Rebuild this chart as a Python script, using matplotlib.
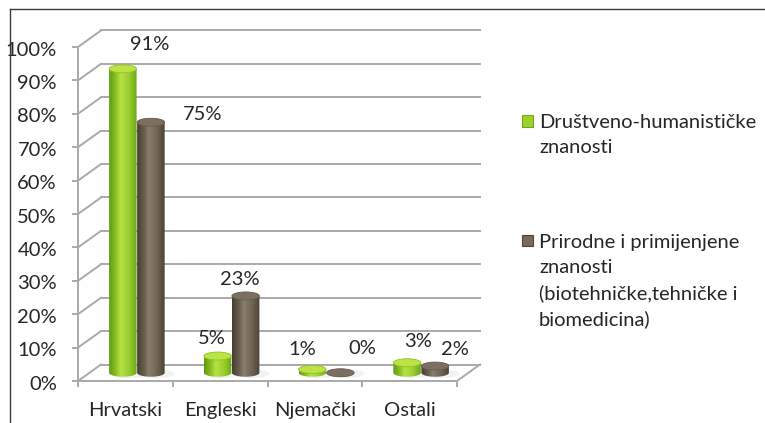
import numpy as np
import matplotlib
matplotlib.use("Agg")
import matplotlib.pyplot as plt
from matplotlib.patches import Polygon, Ellipse, Rectangle
from matplotlib.colors import to_rgb
from matplotlib.lines import Line2D

plt.rcParams['font.family'] = ['Lato', 'DejaVu Sans']

# ---------------- data ----------------
categories = ["Hrvatski", "Engleski", "Njemački", "Ostali"]
series_names = ["Društveno-humanističke\nznanosti",
                "Prirodne i primijenjene\nznanosti\n(biotehničke,tehničke i\nbiomedicina)"]
drustveno = [91, 5, 1, 3]
prirodne = [75, 23, 0, 2]
y_ticks = [0, 10, 20, 30, 40, 50, 60, 70, 80, 90, 100]
y_tick_labels = [f"{v}%" for v in y_ticks]

# ---------------- style ----------------
W, H = 765, 423
FS = 14.5
TXT = "#262626"
fig = plt.figure(figsize=(W / 100, H / 100), dpi=100)
fig.patch.set_facecolor("white")

ax_left, ax_right, ax_top, ax_bottom = 78, 457, 47, 381
ax = fig.add_axes([ax_left / W, (H - ax_bottom) / H,
                   (ax_right - ax_left) / W, (ax_bottom - ax_top) / H])
ax.set_xlim(-0.5, 3.5)
ax.set_ylim(0, 100)
ax.axis("off")

px_x = (ax_right - ax_left) / 4.0      # px per category
px_y = (ax_bottom - ax_top) / 100.0    # px per percent
DX = 23 / px_x
DY = 16.5 / px_y

grid_c = "#a9a9a9"
glw = 1.4

# back wall gridlines and left wall diagonals
for v, lab in zip(y_ticks, y_tick_labels):
    ax.add_line(Line2D([-0.5 + DX, 3.5 + DX], [v + DY, v + DY], color=grid_c, lw=glw, clip_on=False, zorder=1))
    ax.add_line(Line2D([-0.5, -0.5 + DX], [v, v + DY], color=grid_c, lw=glw, clip_on=False, zorder=1))
    ax.add_line(Line2D([-0.5 - 5 / px_x, -0.5], [v, v], color=grid_c, lw=glw, clip_on=False, zorder=1))
    ax.text(-0.5 - 21 / px_x, v - 0.9, lab, ha="right", va="center", fontsize=FS, color=TXT)

# floor front edge and right edge, y-axis
ax.add_line(Line2D([-0.5, 3.5], [0, 0], color=grid_c, lw=glw, clip_on=False, zorder=1))
ax.add_line(Line2D([3.5, 3.5 + DX], [0, DY], color=grid_c, lw=glw, clip_on=False, zorder=1))
ax.add_line(Line2D([-0.5, -0.5], [0, 100], color=grid_c, lw=glw, clip_on=False, zorder=1))
for b in np.arange(-0.5, 4.0, 1.0):
    ax.add_line(Line2D([b, b], [0, -5 / px_y], color=grid_c, lw=glw, clip_on=False, zorder=1))

# category labels
for i, c in enumerate(categories):
    ax.text(i, -29 / px_y, c, ha="center", va="center", fontsize=FS, color=TXT)

# cylinder drawing
green_cols = ["#5f9a12", "#8cc425", "#b6e244", "#9dd030", "#6ea81a"]
green_top = "#bde243"
brown_cols = ["#463e33", "#685e4f", "#8a7f6d", "#716656", "#4c4337"]
brown_top = "#7b7060"


def make_grad(cols, n=64):
    rgb = np.array([to_rgb(c) for c in cols])
    pos = np.array([0.0, 0.25, 0.42, 0.7, 1.0])
    xs = np.linspace(0, 1, n)
    out = np.stack([np.interp(xs, pos, rgb[:, k]) for k in range(3)], axis=-1)
    return out[np.newaxis, :, :]


bw = 27.5 / px_x
eh = 8 / px_y
half = 0.148
y0 = DY / 2


def cylinder(xc, val, cols, topc, z):
    x0, x1 = xc - bw / 2, xc + bw / 2
    y1 = y0 + val
    t = np.linspace(np.pi, 2 * np.pi, 60)
    bottom = np.column_stack([xc + bw / 2 * np.cos(t), y0 + eh / 2 * np.sin(t)])
    pts = np.vstack([[x0, y1], bottom, [x1, y1]])
    sh = Ellipse((xc + 6 / px_x, y0 - 1 / px_y), bw * 1.3, eh * 1.1, facecolor="#000000",
                 alpha=0.05, edgecolor="none", zorder=z - 0.5, clip_on=False)
    ax.add_patch(sh)
    poly = Polygon(pts, closed=True, facecolor="none", edgecolor="none", zorder=z)
    ax.add_patch(poly)
    im = ax.imshow(make_grad(cols), extent=[x0, x1, y0 - eh / 2, y1], aspect="auto",
                   interpolation="bilinear", zorder=z)
    im.set_clip_path(poly)
    top = Ellipse((xc, y1), bw, eh, facecolor=topc, edgecolor=cols[1], lw=0.6, zorder=z + 0.1)
    ax.add_patch(top)


label_offsets_g = [(27, 24), (-6, 18), (-10, 20), (11, 21)]
label_offsets_b = [(52, 8), (-6, 16), (22, 24), (20, 17)]

for i in range(len(categories)):
    xg = i + DX / 2 - half
    xb = i + DX / 2 + half
    cylinder(xg, drustveno[i], green_cols, green_top, 3 + i)
    cylinder(xb, prirodne[i], brown_cols, brown_top, 3.3 + i)
    ax.annotate(f"{drustveno[i]}%", (xg, y0 + drustveno[i]), xytext=label_offsets_g[i],
                textcoords="offset pixels", ha="center", va="center", fontsize=FS,
                color=TXT, annotation_clip=False, zorder=10)
    ax.annotate(f"{prirodne[i]}%", (xb, y0 + prirodne[i]), xytext=label_offsets_b[i],
                textcoords="offset pixels", ha="center", va="center", fontsize=FS,
                color=TXT, annotation_clip=False, zorder=10)

ax.set_xlim(-0.5, 3.5)
ax.set_ylim(0, 100)

# legend (manual)
leg_x_box = 522 / W
leg_x_text = 539 / W
leg_box_y = [121, 241]
leg_text_top = [114, 234]
leg_colors = ["#9fd12e", "#766b5a"]
leg_edges = ["#6ea81a", "#4f463a"]
for name, by, ty, c, e in zip(series_names, leg_box_y, leg_text_top, leg_colors, leg_edges):
    fig.patches.append(Rectangle((leg_x_box, (H - by - 5.5) / H), 11 / W, 11 / H,
                                 transform=fig.transFigure, facecolor=c, edgecolor=e, lw=0.8))
    fig.text(leg_x_text, (H - ty) / H, name, ha="left", va="top", fontsize=FS,
             color=TXT, linespacing=1.56, transform=fig.transFigure)

# frame border
fig.add_artist(Line2D([9.5 / W, 9.5 / W], [0, (H - 9.5) / H], color="#3a3a3a", lw=1.0,
                      transform=fig.transFigure))
fig.add_artist(Line2D([9.5 / W, 1], [(H - 9.5) / H, (H - 9.5) / H], color="#3a3a3a", lw=1.0,
                      transform=fig.transFigure))

fig.savefig("out.png", dpi=100, facecolor="white")
